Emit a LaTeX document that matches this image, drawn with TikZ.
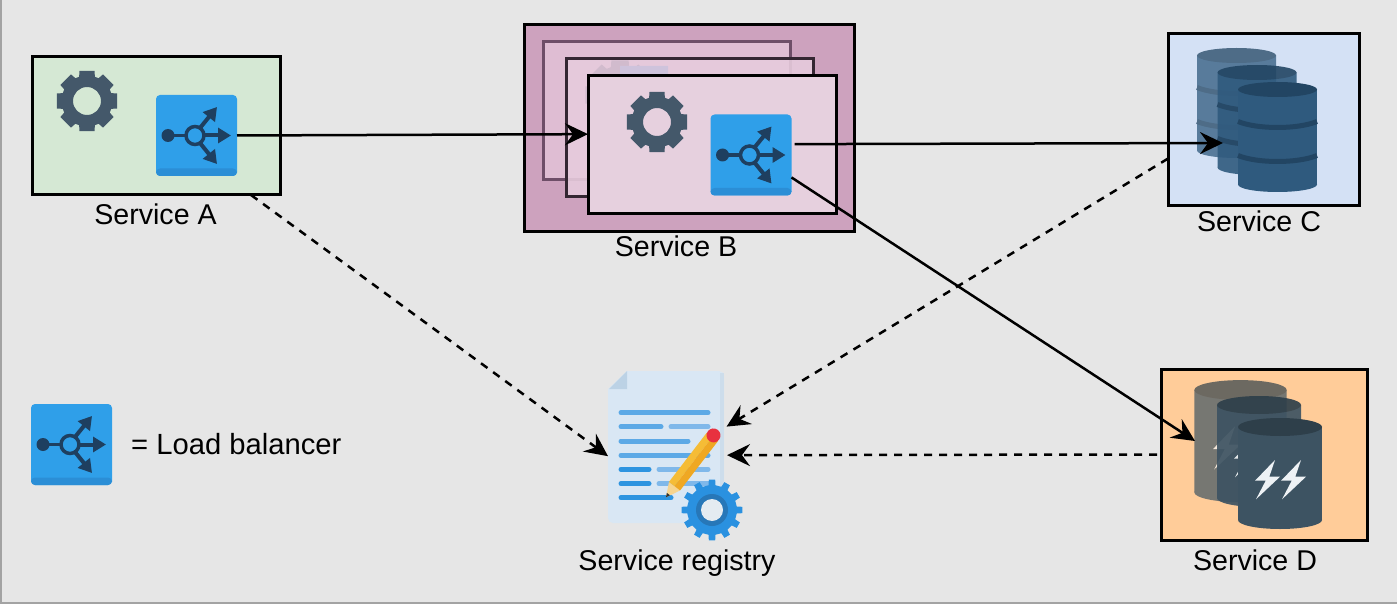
\documentclass[tikz,border=0pt]{standalone}
\usepackage{fontspec}
\setmainfont{Liberation Sans}
\usepackage{tikz}
\usetikzlibrary{arrows.meta}

\definecolor{pagegrey}{HTML}{E6E6E6}
\definecolor{pageedge}{HTML}{A3A3A3}
\definecolor{cardA}{HTML}{D5E8D4}
\definecolor{cardBout}{HTML}{CDA2BE}
\definecolor{cardBback}{HTML}{DFBDD3}
\definecolor{cardBmid}{HTML}{E6CBDC}
\definecolor{cardBfront}{HTML}{E6D0DE}
\definecolor{edgeBback}{HTML}{6E4E68}
\definecolor{edgeBmid}{HTML}{342632}
\definecolor{cardC}{HTML}{D4E1F5}
\definecolor{cardD}{HTML}{FFCC99}
\definecolor{gearslate}{HTML}{44586A}
\definecolor{lbblue}{HTML}{2F9FE9}
\definecolor{lbband}{HTML}{2B8ED6}
\definecolor{lbdark}{HTML}{1E3F60}
\definecolor{dbbody}{HTML}{2F5A7E}
\definecolor{dbtop}{HTML}{224563}
\definecolor{boltbody}{HTML}{3D5362}
\definecolor{bolttop}{HTML}{2E3F4A}
\definecolor{boltwhite}{HTML}{EEF2F5}
\definecolor{docpaper}{HTML}{D9E7F4}
\definecolor{docedge}{HTML}{CDDDEB}
\definecolor{docfold}{HTML}{BCD2E5}
\definecolor{docline}{HTML}{5CA9E6}
\definecolor{docpale}{HTML}{7FB8EA}
\definecolor{docdeep}{HTML}{2D94E0}
\definecolor{cogblue}{HTML}{2A91E0}
\definecolor{cogring}{HTML}{2777B8}
\definecolor{coghole}{HTML}{E4EBF1}
\definecolor{pencilpale}{HTML}{F6D48F}
\definecolor{pencillight}{HTML}{F5BC36}
\definecolor{pencildeep}{HTML}{EFA823}
\definecolor{pencilcap}{HTML}{E8313F}

\tikzset{
	pics/gearicon/.style={code={
		\fill[gearslate, even odd rule] (-18:25.5) \foreach \a in {0,45,...,315} { -- (\a-18:25.5) -- (\a-14:31) -- (\a+14:31) -- (\a+18:25.5) -- (\a+27:25.5) } -- cycle (0,0) circle[radius=14];
	}},
	pics/lbglyph/.style={code={
		\fill[lbband, rounded corners=4pt] (-40.5,33) -- (-40.5,40.5) -- (40.5,40.5) -- (40.5,33) -- cycle;
		\fill[lbdark] (-28.5,0) circle[radius=6.5];
		\draw[lbdark, line width=3.5] (-28,0) -- (-10,0);
		\draw[lbdark, line width=3.5] (-1.5,0) circle[radius=9];
		\draw[lbdark, line width=4, -{Triangle[length=13pt,width=15pt]}] (7.5,0) -- (34.5,0);
		\draw[lbdark, line width=4, -{Triangle[length=13pt,width=15pt]}] (3.5,-7.5) -- (20.5,-28.5);
		\draw[lbdark, line width=4, -{Triangle[length=13pt,width=15pt]}] (3.5,7.5) -- (20.5,28.5);
	}},
	pics/dbbarrel/.style={code={
		\fill[dbbody] (-39.5,0) rectangle (39.5,95);
		\fill[dbbody] (0,95) ellipse[x radius=39.5, y radius=7.5];
		\fill[dbtop] (0,0) ellipse[x radius=39.5, y radius=7.5];
		\draw[dbtop, line width=5] (-39.5,32) .. controls (-20,40) and (20,40) .. (39.5,32);
		\draw[dbtop, line width=5] (-39.5,66) .. controls (-20,74) and (20,74) .. (39.5,66);
	}},
	pics/boltbarrel/.style={code={
		\fill[boltbody] (-42,0) rectangle (42,93);
		\fill[boltbody] (0,93) ellipse[x radius=42, y radius=9];
		\fill[bolttop] (0,0) ellipse[x radius=42, y radius=9];
		\foreach \s in {0,26} {
			\fill[boltwhite, xshift=\s] (-5,33) -- (-25,53.7) -- (-14.3,53.7) -- (-24,72.3) -- (0,49.7) -- (-10.7,49.7) -- cycle;
		}
	}},
	pics/pencilicon/.style={code={
		\fill[pencilpale] (0,0) -- (14,-7) -- (14,7) -- cycle;
		\fill[black!80] (0,0) -- (4,-2) -- (4,2) -- cycle;
		\fill[pencillight] (14,-7) rectangle (76,0);
		\fill[pencildeep] (14,0) rectangle (76,7);
		\fill[pencilcap] (78,0) circle[radius=7];
	}},
	pics/cogicon/.style={code={
		\fill[cogblue] (-8:25) \foreach \a in {0,30,...,330} { -- (\a-8:25) -- (\a-6:30.5) -- (\a+6:30.5) -- (\a+8:25) -- (\a+22:25) } -- cycle;
		\fill[cogring] (0,0) circle[radius=16];
		\fill[coghole] (0,0) circle[radius=11];
	}}
}

\begin{document}
\begin{tikzpicture}[x=1pt, y=-1pt,
	frame/.style={rectangle, draw=black, line width=3pt, inner sep=0pt, outer sep=0pt},
	frontcard/.style={frame, fill=#1, minimum width=248pt, minimum height=138pt},
	lbbox/.style={rectangle, fill=lbblue, rounded corners=4pt, minimum width=81pt, minimum height=81pt, inner sep=0pt, outer sep=0pt},
	lbltext/.style={font=\fontsize{28.6}{30}\selectfont, text=black, inner sep=0pt},
	call/.style={line width=2.5pt, -{Stealth[length=23pt,width=22pt,inset=8pt]}},
	lookup/.style={call, dash pattern=on 8pt off 7pt}]

\useasboundingbox (0,0) rectangle (1397,604);
\fill[pagegrey] (0,0) rectangle (1397,604);
\fill[pageedge] (0,0) rectangle (2,604);
\fill[pageedge] (0,602) rectangle (1397,604);

% service a
\node[frontcard=cardA] (svcA) at (156,126) {};
\pic at (87,101) {gearicon};
\node[lbbox] (lbA) at (196.5,135.5) {};
\pic at (lbA) {lbglyph};
\node[lbltext] (nameA) at (155.5,214) {Service A};

% service b
\node[frame, fill=cardBout, minimum width=330pt, minimum height=206pt] (svcB) at (689,128) {};
\node[frame, draw=edgeBback, fill=cardBback, minimum width=247pt, minimum height=138pt] (backB) at (666.5,111) {};
\node[frame, draw=edgeBmid, fill=cardBmid, fill opacity=.9, minimum width=247pt, minimum height=138pt] (midB) at (689.5,128) {};
\begin{scope}[opacity=.12, transparency group]
	\pic[scale=1.15] at (620,95) {gearicon};
	\fill[lbblue] (620,66) rectangle (668,100);
\end{scope}
\node[frontcard=cardBfront] (frontB) at (712,145) {};
\pic at (657,122) {gearicon};
\node[lbbox] (lbB) at (751,155) {};
\pic at (lbB) {lbglyph};
\node[lbltext] (nameB) at (676,246) {Service B};

% service c
\node[frame, fill=cardC, minimum width=191pt, minimum height=172pt] (svcC) at (1263.5,120) {};
\begin{scope}[opacity=.75, transparency group]
	\pic at (1236.5,55.5) {dbbarrel};
\end{scope}
\begin{scope}[opacity=.9, transparency group]
	\pic at (1257,72.5) {dbbarrel};
\end{scope}
\pic at (1277.5,89.5) {dbbarrel};
\coordinate (inC) at (1223,143);
\node[lbltext] (nameC) at (1259,221) {Service C};

% service d
\node[frame, fill=cardD, minimum width=206pt, minimum height=171pt] (svcD) at (1264,454.5) {};
\begin{scope}[opacity=.7, transparency group]
	\pic[scale=1.1] at (1240.5,390) {boltbarrel};
\end{scope}
\begin{scope}[opacity=.92, transparency group]
	\pic at (1259,405) {boltbarrel};
\end{scope}
\pic at (1280,427) {boltbarrel};
\coordinate (inD) at (1195,441);
\node[lbltext] (nameD) at (1255,560) {Service D};

% registry
\node[rectangle, fill=docpaper, rounded corners=5pt, minimum width=116pt, minimum height=152pt, inner sep=0pt, outer sep=0pt] (regdoc) at (666,447) {};
\fill[docedge] (720,373) rectangle (724,520);
\fill[pagegrey] (607,370) rectangle (627,389);
\fill[docpaper] (608,389) -- (627,371) -- (627,389) -- cycle;
\fill[docfold] (609,389) -- (627,371) -- (627,389) -- cycle;
\begin{scope}[line width=5pt, line cap=round]
	\draw[docline] (621,412.7) -- (708,412.7);
	\draw[docline] (621,426.7) -- (661,426.7);
	\draw[docpale] (671,426.7) -- (708,426.7);
	\draw[docline] (621,441) -- (688,441);
	\draw[docline] (621,455.3) -- (708,455.3);
	\draw[docdeep] (621,469.3) -- (649,469.3);
	\draw[docpale] (659,469.3) -- (708,469.3);
	\draw[docdeep] (621,483.7) -- (649,483.7);
	\draw[docpale] (659,483.7) -- (708,483.7);
	\draw[docdeep] (621,497.7) -- (671,497.7);
\end{scope}
\pic[rotate=52.5] at (666,497.3) {pencilicon};
\pic at (712,510) {cogicon};
\node[lbltext] (nameR) at (677,563) {Service registry};

% legend
\node[lbbox] (lbkey) at (71.5,444.5) {};
\pic at (lbkey) {lbglyph};
\node[lbltext, anchor=west, font=\fontsize{29.2}{30}\selectfont] (keytext) at (131,444) {= Load balancer};

% connectors
\draw[call] (lbA.east) -- (frontB.175);
\draw[call, shorten <=3pt] (lbB.15) -- (inC);
\draw[call] (lbB.-29) -- (inD);
\draw[lookup] (svcA.-36) -- (regdoc.189);
\draw[lookup, shorten >=3pt] (svcC.202) -- (regdoc.18);
\draw[lookup, shorten <=4pt, shorten >=3pt] (svcD.west) -- (regdoc.-8);
\end{tikzpicture}
\end{document}
